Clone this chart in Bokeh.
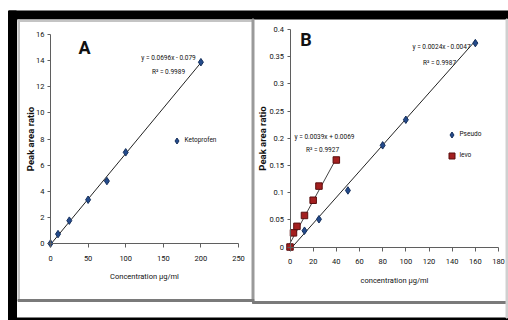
from bokeh.plotting import figure
from bokeh.models import (Range1d, LinearAxis, FixedTicker, NumeralTickFormatter,
                          Label, Legend, LegendItem, BoxAnnotation)
from bokeh.embed import file_html
from bokeh.resources import INLINE

# ---------------- data ----------------
keto_conc = [0, 10, 25, 50, 75, 100, 200]
keto_ratio = [0.0, 0.72, 1.75, 3.35, 4.78, 6.98, 13.88]
keto_slope, keto_icpt = 0.0696, -0.079
keto_eq = "y = 0.0696x - 0.079"
keto_r2 = "R² = 0.9989"

pseudo_conc = [0, 12.5, 25, 50, 80, 100, 160]
pseudo_ratio = [0.0, 0.030, 0.051, 0.104, 0.187, 0.234, 0.375]
pseudo_slope, pseudo_icpt = 0.0024, -0.0047
pseudo_eq = "y = 0.0024x - 0.0047"
pseudo_r2 = "R² = 0.9987"

levo_conc = [0, 3, 6, 12.5, 20, 25, 40]
levo_ratio = [0.0, 0.026, 0.038, 0.058, 0.086, 0.112, 0.160]
levo_slope, levo_icpt = 0.0039, 0.0069
levo_eq = "y = 0.0039x + 0.0069"
levo_r2 = "R² = 0.9927"

a_xticks = [0, 50, 100, 150, 200, 250]
a_yticks = [0, 2, 4, 6, 8, 10, 12, 14, 16]
b_xticks = [0, 20, 40, 60, 80, 100, 120, 140, 160, 180]
b_yticks = [0, 0.05, 0.1, 0.15, 0.2, 0.25, 0.3, 0.35, 0.4]

a_xlabel = "Concentration µg/ml"
b_xlabel = "concentration µg/ml"
ylabel = "Peak area ratio"

# ---------------- layout ----------------
W, H = 508, 320
FONT = "Roboto"
BLUE, BLUE_D = "#244b8c", "#16305c"
RED, RED_D = "#a31f1f", "#5a0e0e"
AXC = "#5f5f5f"

p = figure(width=W, height=H, x_range=Range1d(0, W), y_range=Range1d(H, 0),
           x_axis_location=None, y_axis_location=None, min_border=0,
           toolbar_location=None, output_backend="svg", outline_line_color=None)
p.background_fill_color = "white"
p.border_fill_color = "white"
p.xgrid.visible = False
p.ygrid.visible = False


def lin_range(v0, v1, px0, px1, total):
    s = (px1 - px0) / (v1 - v0)
    start = v0 - px0 / s
    return Range1d(start, start + total / s)


p.extra_x_ranges = {"ax": lin_range(0, 250, 50, 238, W),
                    "bx": lin_range(0, 180, 289.5, 498, W)}
p.extra_y_ranges = {"ay": lin_range(0, 16, H - 243, H - 34, H),
                    "by": lin_range(0, 0.4, H - 246.5, H - 29, H)}


def deco(l, r, t, b, color):
    # page-pixel decoration: glyph quad plus a screen-unit box (screen y counts from the bottom)
    p.quad(left=[l], right=[r], top=[t], bottom=[b], color=color)
    p.add_layout(BoxAnnotation(left=l, right=r, top=H - t, bottom=H - b,
                               left_units="screen", right_units="screen",
                               top_units="screen", bottom_units="screen",
                               fill_color=color, fill_alpha=1.0, line_color=None,
                               level="underlay"))


# black frame
deco(8, W, 10.5, 18.5, "black")
deco(8, 16, 10.5, 319.5, "black")
deco(8, W, 317.5, 319.5, "black")
# panel borders
deco(17.5, 19, 19.5, 300, "#c4c4c4")
deco(17.5, 252, 19.5, 21, "#c4c4c4")
deco(251.5, 253.5, 18.5, 300, "#9a9a9a")
deco(17.5, 253.5, 299, 301, "#7a7a7a")
deco(252, W, 301, 303, "#7a7a7a")
deco(505.5, 507, 18.5, 317.5, "#d0d0d0")

# ---------------- panel A ----------------
ka = dict(x_range_name="ax", y_range_name="ay")
kx = [keto_conc[0], keto_conc[-1]]
p.line(kx, [keto_slope * v + keto_icpt for v in kx], line_color="#222222", line_width=1, **ka)
kr = p.scatter(keto_conc, keto_ratio, marker="diamond", size=7.5,
               fill_color=BLUE, line_color=BLUE_D, **ka)

# ---------------- panel B ----------------
kb = dict(x_range_name="bx", y_range_name="by")
px_ = [pseudo_conc[0], pseudo_conc[-1]]
lx_ = [levo_conc[0], levo_conc[-1]]
p.line(px_, [pseudo_slope * v + pseudo_icpt for v in px_], line_color="#222222", line_width=1, **kb)
p.line(lx_, [levo_slope * v + levo_icpt for v in lx_], line_color="#444444", line_width=1, **kb)
pr = p.scatter(pseudo_conc, pseudo_ratio, marker="diamond", size=7.5,
               fill_color=BLUE, line_color=BLUE_D, **kb)
lr = p.scatter(levo_conc, levo_ratio, marker="square", size=6.5,
               fill_color=RED, line_color=RED_D, **kb)


def style_axis(ax, horizontal, title_standoff):
    ax.axis_line_color = AXC
    ax.major_tick_line_color = AXC
    ax.minor_tick_line_color = None
    ax.major_tick_in = 0
    ax.major_tick_out = 4 if horizontal else 3
    ax.major_label_text_font = FONT
    ax.major_label_text_font_size = "7.5px"
    ax.major_label_text_color = "#111111"
    ax.major_label_standoff = 8 if horizontal else 3
    ax.axis_label_text_font = FONT
    ax.axis_label_text_color = "#111111"
    ax.axis_label_standoff = title_standoff
    if horizontal:
        ax.axis_label_text_font_size = "7.5px"
        ax.axis_label_text_font_style = "normal"
    else:
        ax.axis_label_text_font_size = "9.5px"
        ax.axis_label_text_font_style = "bold"


def add_axes(xr, yr, xt, yt, xl, ystand, yfmt=None):
    xa = LinearAxis(x_range_name=xr, y_range_name=yr, fixed_location=0,
                    bounds=(xt[0], xt[-1]), ticker=FixedTicker(ticks=xt), axis_label=xl)
    ya = LinearAxis(x_range_name=xr, y_range_name=yr, fixed_location=0,
                    bounds=(yt[0], yt[-1]), ticker=FixedTicker(ticks=yt), axis_label=ylabel)
    if yfmt is not None:
        ya.formatter = yfmt
    style_axis(xa, True, 8)
    style_axis(ya, False, ystand)
    p.add_layout(xa, "below")
    p.add_layout(ya, "left")


add_axes("ax", "ay", a_xticks, a_yticks, a_xlabel, -3)
add_axes("bx", "by", b_xticks, b_yticks, b_xlabel, -1, NumeralTickFormatter(format="0.[00]"))

# ---------------- texts ----------------
def lab(txt, x, y, size, style="normal"):
    p.add_layout(Label(x=x, y=y, text=txt, text_align="center", text_baseline="middle",
                       text_font=FONT, text_font_size=size, text_font_style=style,
                       text_color="#111111"))


lab("A", 84, 46.5, "18px", "bold")
lab("B", 305.5, 39, "18px", "bold")
lab(keto_eq, 168, 57, "6.5px")
lab(keto_r2, 168, 71, "6.5px")
lab(pseudo_eq, 441, 46.7, "6.5px")
lab(pseudo_r2, 439, 62.3, "6.5px")
lab(levo_eq, 324, 136.7, "6.5px")
lab(levo_r2, 322, 149, "6.5px")

# ---------------- legends ----------------
def legend(items, x, y):
    lg = Legend(items=items, location=(x, y), glyph_width=15, glyph_height=15,
                label_height=15, label_standoff=1, padding=0, spacing=6, margin=0,
                border_line_color=None, background_fill_alpha=0,
                label_text_font=FONT, label_text_font_size="6.5px", label_text_color="#111111")
    p.add_layout(lg)


legend([LegendItem(label="Ketoprofen", renderers=[kr])], 168.5, H - 147.5)
legend([LegendItem(label="Pseudo", renderers=[pr]),
        LegendItem(label="levo", renderers=[lr])], 443.5, H - 162.5)

open("out.html", "w").write(file_html(p, INLINE))
